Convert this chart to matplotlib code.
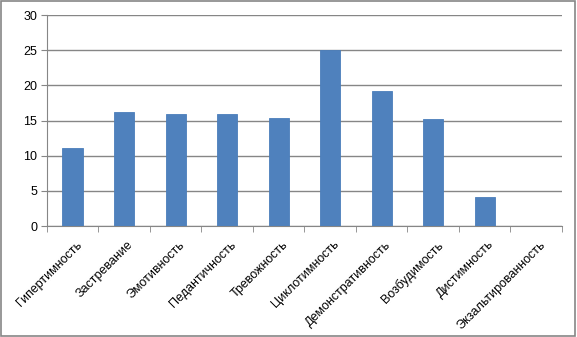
import matplotlib.pyplot as plt
from matplotlib.patches import Rectangle

# Data
categories = ["Гипертимность", "Застревание", "Эмотивность", "Педантичность",
              "Тревожность", "Циклотимность", "Демонстративность", "Возбудимость",
              "Дистимность", "Экзальтированность"]
values = [11.1, 16.2, 15.9, 16.0, 15.4, 25.1, 19.2, 15.3, 4.2, 0]

plt.rcParams['font.family'] = ['Liberation Sans', 'DejaVu Sans']

fig = plt.figure(figsize=(5.77, 3.37), dpi=100)
ax = fig.add_axes([0.081, 0.329, 0.893, 0.626])

x = range(len(categories))
ax.bar(x, values, width=0.39, color="#4F81BD", edgecolor="#4A7EBB", linewidth=0.6, zorder=3)

ax.set_ylim(0, 30)
ax.set_yticks(range(0, 31, 5))
ax.set_xlim(-0.5, len(categories) - 0.5)
ax.grid(axis="y", color="#868686", linewidth=1, zorder=0)

ax.set_xticks([i + 0.06 for i in x])
ax.set_xticklabels(categories, rotation=45, ha="right", rotation_mode="anchor", fontsize=9)
ax.tick_params(axis="x", length=0, pad=9)
ax.set_xticks([i - 0.5 for i in range(len(categories) + 1)], minor=True)
ax.tick_params(axis="x", which="minor", length=4, color="#868686", direction="out")
ax.tick_params(axis="y", length=4, color="#868686", labelsize=9, pad=3)

for side in ["top", "right"]:
    ax.spines[side].set_visible(False)
for side in ["left", "bottom"]:
    ax.spines[side].set_color("#868686")

# outer border
fig.patches.append(Rectangle((0.002, 0.003), 0.995, 0.993, transform=fig.transFigure,
                             fill=False, edgecolor="#868686", linewidth=1.2))

fig.savefig("out.png", dpi=100)
